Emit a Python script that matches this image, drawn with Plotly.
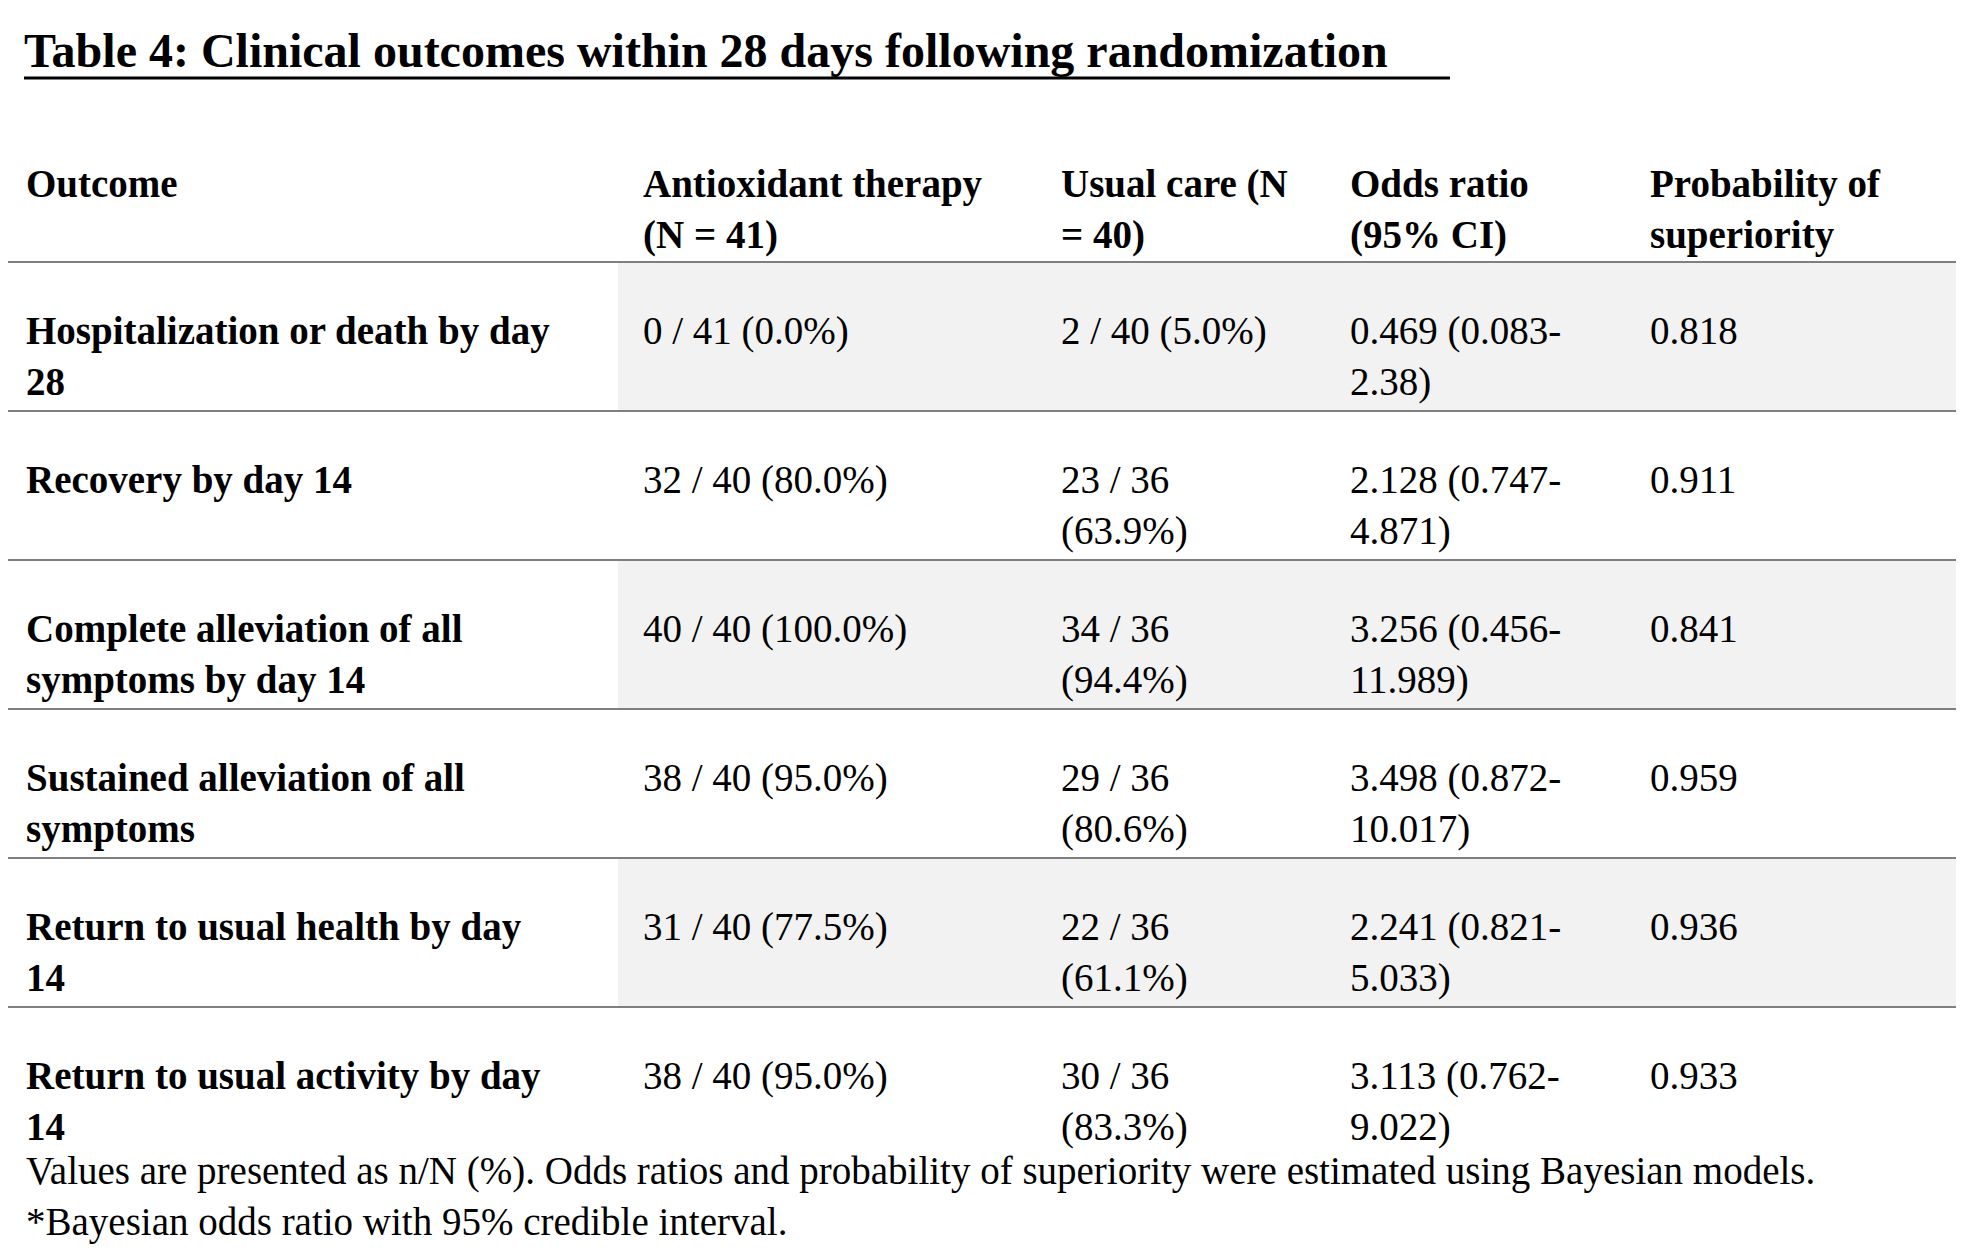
import plotly.graph_objects as go

title = "Table 4: Clinical outcomes within 28 days following randomization"
headers = ["Outcome", "Antioxidant therapy<br>(N = 41)", "Usual care (N<br>= 40)", "Odds ratio<br>(95% CI)", "Probability of<br>superiority"]
outcomes = ["Hospitalization or death by day<br>28", "Recovery by day 14", "Complete alleviation of all<br>symptoms by day 14",
            "Sustained alleviation of all<br>symptoms", "Return to usual health by day<br>14", "Return to usual activity by day<br>14"]
antioxidant = ["0 / 41 (0.0%)", "32 / 40 (80.0%)", "40 / 40 (100.0%)", "38 / 40 (95.0%)", "31 / 40 (77.5%)", "38 / 40 (95.0%)"]
usual = ["2 / 40 (5.0%)", "23 / 36<br>(63.9%)", "34 / 36<br>(94.4%)", "29 / 36<br>(80.6%)", "22 / 36<br>(61.1%)", "30 / 36<br>(83.3%)"]
odds = ["0.469 (0.083-<br>2.38)", "2.128 (0.747-<br>4.871)", "3.256 (0.456-<br>11.989)", "3.498 (0.872-<br>10.017)", "2.241 (0.821-<br>5.033)", "3.113 (0.762-<br>9.022)"]
prob = ["0.818", "0.911", "0.841", "0.959", "0.936", "0.933"]
footer = ["Values are presented as n/N (%). Odds ratios and probability of superiority were estimated using Bayesian models.",
          "*Bayesian odds ratio with 95% credible interval."]

W, H = 1964, 1258
colx = [16, 633, 1051, 1340, 1640]
header_line = 254
row_h = 149
F = "Liberation Serif, Times New Roman, Times, serif"
fs = 39

fig = go.Figure()
shapes, anns = [], []

def add_text(x, ytop, text, bold=False, size=fs):
    anns.append(dict(x=x, y=ytop, text=("<b>%s</b>" % text.replace("<br>", "</b><br><b>")) if bold else text,
                     xanchor="left", yanchor="top", align="left", showarrow=False,
                     font=dict(family=F, size=size, color="black"), xref="x", yref="y"))

# title
add_text(14, 14, title, bold=True, size=48)
shapes.append(dict(type="line", x0=16, x1=1442, y0=70, y1=70, line=dict(color="black", width=3), xref="x", yref="y"))

# header
for x, h in zip(colx, headers):
    add_text(x, 152, h, bold=True)
shapes.append(dict(type="line", x0=0, x1=W, y0=header_line, y1=header_line, line=dict(color="black", width=1.2), xref="x", yref="y"))

for i in range(len(outcomes)):
    top = header_line + i * row_h
    if i % 2 == 0:
        shapes.append(dict(type="rect", x0=610, x1=W, y0=top + 1, y1=top + row_h - 1, fillcolor="#f2f2f2",
                           line=dict(width=0), layer="below", xref="x", yref="y"))
    ty = top + 45
    add_text(colx[0], ty, outcomes[i], bold=True)
    add_text(colx[1], ty, antioxidant[i])
    add_text(colx[2], ty, usual[i])
    add_text(colx[3], ty, odds[i])
    add_text(colx[4], ty, prob[i])
    if i < len(outcomes) - 1:
        y = top + row_h
        shapes.append(dict(type="line", x0=0, x1=W, y0=y, y1=y, line=dict(color="black", width=1.2), xref="x", yref="y"))

add_text(16, 1139, footer[0] + "<br>" + footer[1])

fig.update_layout(width=W, height=H, margin=dict(l=0, r=0, t=0, b=0), plot_bgcolor="white", paper_bgcolor="white",
                  shapes=shapes, annotations=anns,
                  xaxis=dict(range=[0, W], visible=False, fixedrange=True),
                  yaxis=dict(range=[H, 0], visible=False, fixedrange=True))
fig.write_html("out.html")
